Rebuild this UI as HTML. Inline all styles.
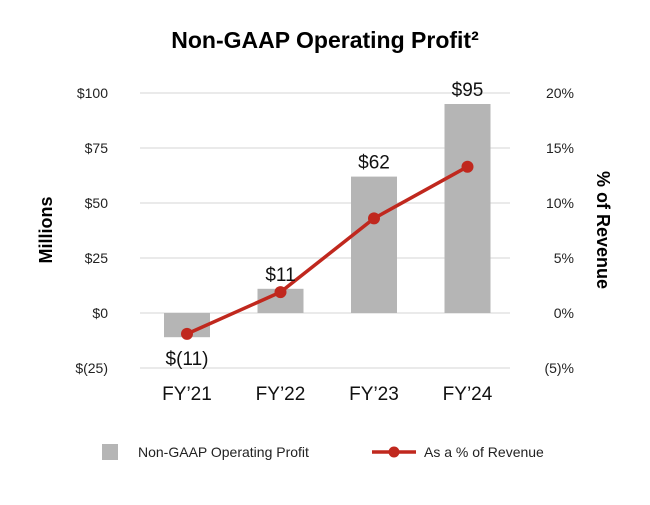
<!DOCTYPE html>
<html><head><meta charset="utf-8"><style>
body{margin:0;background:#fff;font-family:"Liberation Sans",Arial,sans-serif}
</style></head><body>
<svg width="650" height="500" xmlns="http://www.w3.org/2000/svg" id="c">
<text x="325" y="48" text-anchor="middle" font-size="23" font-weight="bold" fill="#000">Non-GAAP Operating Profit²</text>
<text transform="translate(52,230) rotate(-90)" text-anchor="middle" font-size="18" font-weight="bold">Millions</text>
<text transform="translate(597,230) rotate(90)" text-anchor="middle" font-size="18" font-weight="bold">% of Revenue</text>
<g id="grid"></g><g id="bars"></g><g id="line"></g><g id="labels"></g>
<g>
<rect x="102" y="444" width="16" height="16" fill="#b5b5b5"/>
<text x="138" y="457" font-size="14" fill="#222">Non-GAAP Operating Profit</text>
<line x1="372" y1="452" x2="416" y2="452" stroke="#c0281e" stroke-width="3.5"/>
<circle cx="394" cy="452" r="5.5" fill="#c0281e"/>
<text x="424" y="457" font-size="14" fill="#222">As a % of Revenue</text>
</g>
</svg>
<script>
const categories=["FY’21","FY’22","FY’23","FY’24"];
const profit=[-11,11,62,95];
const profitLabels=["$(11)","$11","$62","$95"];
const pctRevenue=[-1.9,1.9,8.6,13.3];
const leftTicks=[-25,0,25,50,75,100];
const leftTickLabels=["$(25)","$0","$25","$50","$75","$100"];
const rightTicks=[-5,0,5,10,15,20];
const rightTickLabels=["(5)%","0%","5%","10%","15%","20%"];

const NS="http://www.w3.org/2000/svg";
const y=v=>313-v*2.2;
const y2=v=>313-v*11;
const x=i=>187+i*93.5;
function mk(tag,attrs,parent,txt){const e=document.createElementNS(NS,tag);for(const k in attrs)e.setAttribute(k,attrs[k]);if(txt!==undefined)e.textContent=txt;document.getElementById(parent).appendChild(e);return e;}
leftTicks.forEach((t,i)=>{
  const l=mk('line',{x1:140,x2:510,y1:y(t),y2:y(t),stroke:'#e3e3e3','stroke-width':1.5},'grid');
  
  
  const a=mk('text',{x:108,y:y(t)+5,'text-anchor':'end','font-size':14,fill:'#222'},'grid',leftTickLabels[i]);
  
  
});
rightTicks.forEach((t,i)=>{
  const a=mk('text',{x:574,y:y2(t)+5,'text-anchor':'end','font-size':14,fill:'#222'},'grid',rightTickLabels[i]);
  
  
});
profit.forEach((v,i)=>{
  const top=Math.min(y(v),y(0)),h=Math.abs(y(v)-y(0));
  const r=mk('rect',{x:x(i)-23,y:top,width:46,height:h,fill:'#b5b5b5'},'bars');
  
  
  const ly=v>=0?y(v)-8:y(v)+28;
  const t=mk('text',{x:x(i),y:ly,'text-anchor':'middle','font-size':19,fill:'#111'},'labels',profitLabels[i]);
  
  
  const c=mk('text',{x:x(i),y:400,'text-anchor':'middle','font-size':19,fill:'#111'},'labels',categories[i]);
  
  
});
const pl=mk('polyline',{points:pctRevenue.map((v,i)=>x(i)+','+y2(v)).join(' '),fill:'none',stroke:'#c0281e','stroke-width':3.5},'line');


pctRevenue.forEach((v,i)=>{
  const c=mk('circle',{cx:x(i),cy:y2(v),r:6,fill:'#c0281e'},'line');
  
  
});
</script>
</body></html>
